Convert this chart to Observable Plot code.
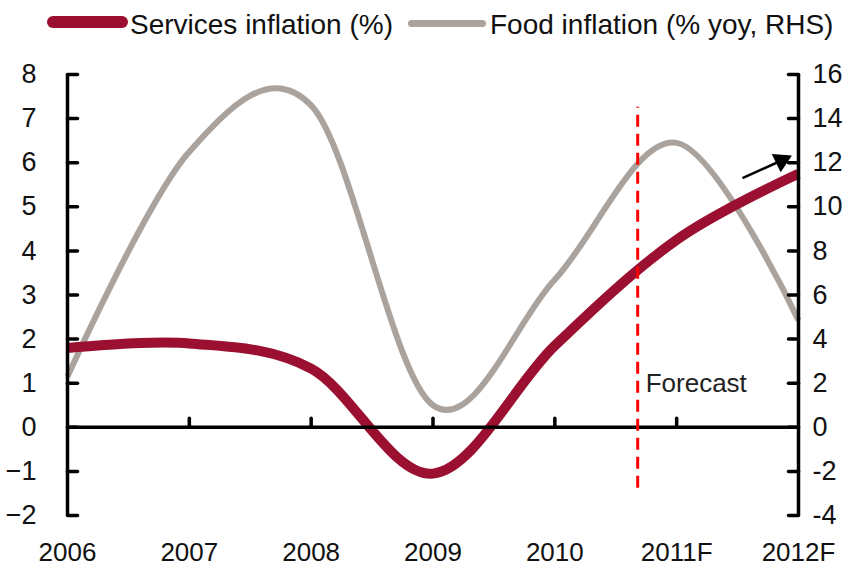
<!DOCTYPE html>
<html>
<head>
<meta charset="utf-8">
<script src="https://cdn.jsdelivr.net/npm/d3@7"></script>
<script src="https://cdn.jsdelivr.net/npm/@observablehq/plot@0.6"></script>
<style>
  html, body { margin: 0; padding: 0; background: #fff; }
  #wrap { width: 854px; height: 567px; position: relative; font-family: "Liberation Sans", Arial, sans-serif; }
  #legend { position: relative; width: 854px; height: 48px; }
  .sw { position: absolute; }
  .lt { position: absolute; font-size: 28px; line-height: 1; color: #111; white-space: nowrap; }
</style>
</head>
<body>
<div id="wrap">
  <div id="legend"></div>
  <div id="chart"></div>
</div>
<script>
// ---- data ----
const years = [2006, 2007, 2008, 2009, 2010, 2011, 2012];
const yearLabels = ["2006", "2007", "2008", "2009", "2010", "2011F", "2012F"];
const servicesInflation = [1.8, 1.9, 1.33, -1.05, 1.85, 4.25, 5.75];   // left axis, %
const foodInflation = [2.3, 12.5, 14.6, 1.0, 6.7, 12.9, 4.85];         // right axis, % yoy
const leftTicks = [-2, -1, 0, 1, 2, 3, 4, 5, 6, 7, 8];
const rightTicks = [-4, -2, 0, 2, 4, 6, 8, 10, 12, 14, 16];
const seriesNames = ["Services inflation (%)", "Food inflation (% yoy, RHS)"];
const seriesColors = ["#9b1030", "#aaa29c"];
const forecastX = [2010.68];
const forecastSpan = [-1.38, 7.26];
const forecastLabel = ["Forecast"];
const forecastLabelY = [1.0];
const arrowFrom = [2011.54, 5.65];
const arrowTo = [2011.86, 6.05];

// ---- legend ----
const legend = document.getElementById("legend");
legend.innerHTML = `
  <div class="sw" style="left:47px;top:16px;width:81px;height:12px;border-radius:6px;background:${seriesColors[0]}"></div>
  <div class="lt" style="left:130px;top:11px">${seriesNames[0]}</div>
  <div class="sw" style="left:408px;top:20px;width:78px;height:7px;border-radius:3.5px;background:${seriesColors[1]}"></div>
  <div class="lt" style="left:490px;top:11px">${seriesNames[1]}</div>`;

const ratio = 2; // right axis = 2 x left axis
const services = years.map((x, i) => ({x, v: servicesInflation[i]}));
const food = years.map((x, i) => ({x, v: foodInflation[i] / ratio}));
const line = {draw(ctx, l) { ctx.moveTo(0, 0); ctx.lineTo(0, -l); }};
const xDom = [years[0], years[years.length - 1]];
const yDom = [leftTicks[0], leftTicks[leftTicks.length - 1]];

const chart = Plot.plot({
  width: 854,
  height: 519,
  marginTop: 26,
  marginBottom: 52,
  marginLeft: 67,
  marginRight: 56,
  style: {fontFamily: "'Liberation Sans', Arial, sans-serif", fontSize: "27px", color: "#111", background: "#fff", overflow: "visible"},
  x: {domain: xDom, axis: null},
  y: {domain: yDom, axis: null},
  marks: [
    Plot.axisX(years, {anchor: "bottom", label: null, tickSize: 0, tickPadding: 27, fontSize: 26, tickFormat: (d) => yearLabels[years.indexOf(d)]}),
    Plot.axisY(leftTicks, {anchor: "left", label: null, tickSize: 0, tickPadding: 31, fontSize: 27}),
    Plot.axisY(rightTicks.map(d => d / ratio), {anchor: "right", label: null, tickSize: 0, tickPadding: 14, fontSize: 27, tickFormat: d => String(d * ratio)}),
    // lines
    Plot.line(food, {x: "x", y: "v", stroke: seriesColors[1], strokeWidth: 6, curve: "cardinal", tension: 0, strokeLinecap: "butt"}),
    Plot.line(services, {x: "x", y: "v", stroke: seriesColors[0], strokeWidth: 10, curve: "cardinal", tension: 0, strokeLinecap: "butt"}),
    // axis lines
    Plot.ruleX(xDom, {y1: yDom[0], y2: yDom[1], stroke: "#000", strokeWidth: 3.5}),
    Plot.ruleY([0], {x1: xDom[0], x2: xDom[1], stroke: "#000", strokeWidth: 3.5}),
    Plot.vector(leftTicks, {x: xDom[0], y: d => d, length: 10, rotate: 90, anchor: "start", shape: line, stroke: "#000", strokeWidth: 3.5}),
    Plot.vector(leftTicks, {x: xDom[1], y: d => d, length: 10, rotate: -90, anchor: "start", shape: line, stroke: "#000", strokeWidth: 3.5}),
    Plot.vector(years.slice(1, -1), {x: d => d, y: 0, length: 9, rotate: 0, anchor: "start", shape: line, stroke: "#000", strokeWidth: 3.5}),
    // forecast marker
    Plot.ruleX(forecastX, {y1: forecastSpan[0], y2: forecastSpan[1], stroke: "#ff0000", strokeWidth: 3, strokeDasharray: "12,7"}),
    Plot.text(forecastLabel, {x: forecastX[0], y: forecastLabelY[0], text: d => d, textAnchor: "start", dx: 8, fontSize: 26, fill: "#222"}),
    // arrow
    Plot.link([0], {x1: arrowFrom[0], y1: arrowFrom[1], x2: arrowTo[0], y2: arrowTo[1], stroke: "#000", strokeWidth: 2.5}),
    Plot.dot([0], {x: arrowTo[0], y: arrowTo[1], symbol: "triangle", r: 7.5, fill: "#000", stroke: "none", rotate: 64})
  ]
});
document.getElementById("chart").appendChild(chart);
</script>
</body>
</html>
